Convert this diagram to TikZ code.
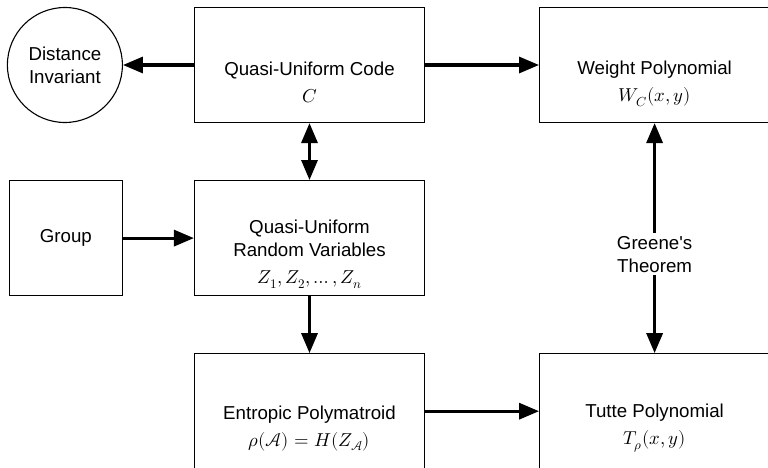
\documentclass[tikz,border=0pt]{standalone}
\usepackage{fontspec}
\setmainfont{Liberation Sans}[Ligatures=TeXOff]
\usepackage{amsmath}
\usepackage{unicode-math}
\setmathfont{Latin Modern Math}
\usetikzlibrary{arrows.meta,positioning}
\tikzset{
    block/.style={rectangle,draw,line width=1.1pt,minimum width=230pt,minimum height=115pt},
    smallblock/.style={rectangle,draw,line width=1.1pt,minimum width=113pt,minimum height=115pt},
    vertex/.style={circle,draw,line width=1.1pt,minimum size=115pt,align=center},
    boxtext/.style={align=center,yshift=-17pt},
    pre/.style={-{Triangle[length=20pt,width=16pt]},line width=3.2pt},
    bi/.style={{Triangle[length=20pt,width=16pt]}-{Triangle[length=20pt,width=16pt]},line width=3.2pt}
}

\begin{document}
\begin{tikzpicture}[x=1pt,y=-1pt,every node/.style={font=\fontsize{18.7}{23}\selectfont}]
    \clip (0,0) rectangle (768,468);

    \node[block]  (qu code)  at (309.5,65) [label={[boxtext]center:{Quasi-Uniform Code\\[4pt]$C$}}] {};
    \node[vertex] (distance) [left=71pt of qu code]  {Distance\\Invariant};
    \node[block]  (weight)   [right=114pt of qu code,
                              label={[boxtext,yshift=-2pt]center:{Weight Polynomial\\[4pt]$W_C(x,y)$}}] {};

    \node[block]      (qu rv) [below=57pt of qu code,
                               label={[boxtext,yshift=1pt]center:{Quasi-Uniform\\Random Variables\\[4pt]$Z_1, Z_2, \ldots, Z_n$}}] {};
    \node[smallblock] (group) [left=71pt of qu rv] {Group};

    \node[block] (entropic) [below=57pt of qu rv,
                             label={[boxtext]center:{Entropic Polymatroid\\[4pt]$\rho(\mathcal{A}) = H(Z_{\mathcal{A}})$}}] {};
    \node[block] (tutte)    [right=114pt of entropic,
                             label={[boxtext]center:{Tutte Polynomial\\[4pt]$T_\rho(x,y)$}}] {};

    \draw[pre] (qu code) -- (distance);
    \draw[pre] (qu code) -- (weight);
    \draw[bi]  (qu code) -- (qu rv);
    \draw[pre] (group) -- (qu rv);
    \draw[pre] (qu rv) -- (entropic);
    \draw[pre] (entropic) -- (tutte);
    \draw[bi]  (weight) -- node[pos=0.57,fill=white,align=center,inner sep=3pt] (greene) {Greene's\\Theorem} (tutte);
\end{tikzpicture}
\end{document}
